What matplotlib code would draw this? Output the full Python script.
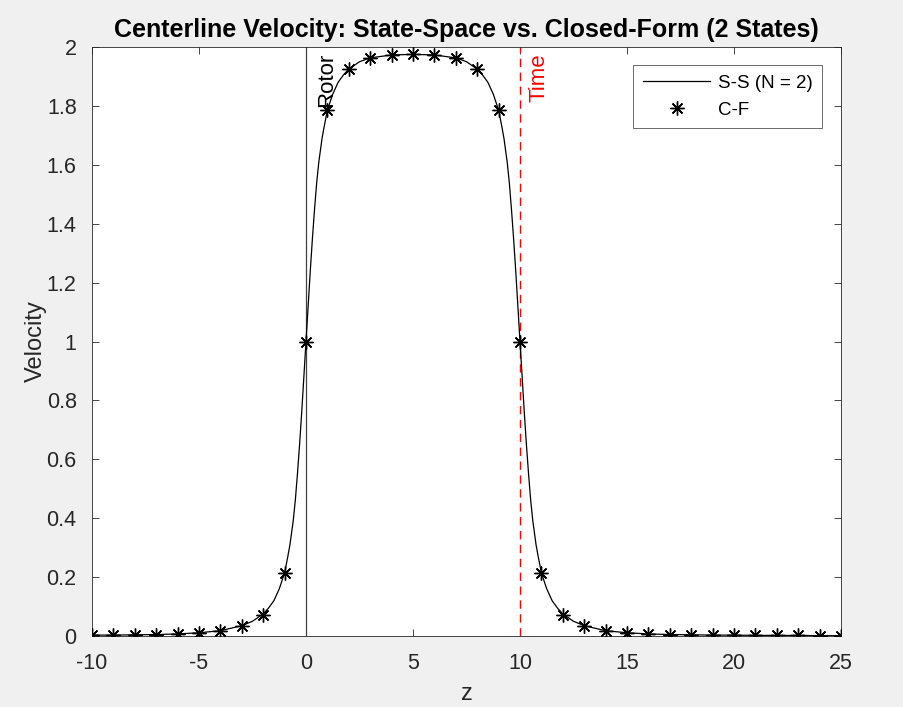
import matplotlib
matplotlib.use("Agg")
import matplotlib.pyplot as plt

plt.rcParams['font.family'] = ['Liberation Sans', 'DejaVu Sans']

# Closed-form solution sampled at integer z
cf_z = list(range(-10, 26))
cf_v = [0.003, 0.003, 0.004, 0.005, 0.007, 0.011, 0.018, 0.035, 0.072, 0.213,
        1.000, 1.786, 1.925, 1.963, 1.973, 1.975, 1.973, 1.963, 1.925, 1.786,
        1.000, 0.213, 0.072, 0.035, 0.018, 0.011, 0.007, 0.005, 0.004, 0.003,
        0.003, 0.002, 0.002, 0.002, 0.001, 0.001]

# State-space (N = 2) solution, finer sampling near the two discontinuities
ss_z = [-10, -9, -8, -7, -6, -5, -4, -3, -2.5, -2, -1.75, -1.5, -1.25, -1,
        -0.85, -0.75, -0.6, -0.5, -0.4, -0.3, -0.2, -0.15, -0.1, -0.05, 0,
        0.05, 0.1, 0.15, 0.2, 0.3, 0.4, 0.5, 0.6, 0.75, 0.85, 1, 1.25, 1.5,
        1.75, 2, 2.5, 3, 4, 5, 6, 7, 7.5, 8, 8.25, 8.5, 8.75, 9, 9.15, 9.25,
        9.4, 9.5, 9.6, 9.7, 9.8, 9.85, 9.9, 9.95, 10, 10.05, 10.1, 10.15, 10.2,
        10.3, 10.4, 10.5, 10.6, 10.75, 10.85, 11, 11.25, 11.5, 11.75, 12, 12.5,
        13, 14, 15, 16, 17, 18, 19, 20, 21, 22, 23, 24, 25]
ss_v = [0.003, 0.003, 0.004, 0.005, 0.007, 0.011, 0.018, 0.035, 0.050, 0.075,
        0.095, 0.120, 0.160, 0.214, 0.270, 0.310, 0.390, 0.460, 0.550, 0.650,
        0.760, 0.820, 0.880, 0.940, 1.000, 1.060, 1.120, 1.180, 1.240, 1.350,
        1.450, 1.540, 1.610, 1.690, 1.730, 1.786, 1.840, 1.880, 1.905, 1.925,
        1.950, 1.963, 1.973, 1.975, 1.973, 1.963, 1.950, 1.925, 1.905, 1.880,
        1.840, 1.786, 1.730, 1.690, 1.610, 1.540, 1.450, 1.350, 1.240, 1.180,
        1.120, 1.060, 1.000, 0.940, 0.880, 0.820, 0.760, 0.650, 0.550, 0.460,
        0.390, 0.310, 0.270, 0.214, 0.160, 0.120, 0.095, 0.075, 0.050, 0.035,
        0.018, 0.011, 0.007, 0.005, 0.004, 0.003, 0.003, 0.002, 0.002, 0.002,
        0.001, 0.001]

rotor_z = 0
time_z = 10

x_ticks = [-10, -5, 0, 5, 10, 15, 20, 25]
y_ticks = [0, 0.2, 0.4, 0.6, 0.8, 1, 1.2, 1.4, 1.6, 1.8, 2]

ink = '#262626'

fig = plt.figure(figsize=(9.04, 7.07), dpi=100, facecolor='#f0f0f0')
ax = fig.add_axes([92 / 904, 1 - 636 / 707, (841 - 92) / 904, (636 - 47) / 707])
ax.set_facecolor('white')

ax.plot(ss_z, ss_v, color='black', lw=0.9, label='S-S (N = 2)', zorder=3)
ax.plot(cf_z, cf_v, linestyle='none', marker=(8, 2, 0), markersize=10,
        markeredgewidth=1.0, color='black', label='C-F', zorder=4)

ax.axvline(rotor_z, color='#404040', lw=0.9, zorder=2)
ax.axvline(time_z, color='red', lw=1.0, ls=(0, (6, 4)), zorder=2)
ax.text(rotor_z + 0.95, 1.98, 'Rotor', rotation=90, ha='center', va='top',
        fontsize=16, color='black')
ax.text(time_z + 0.9, 1.98, 'Time', rotation=90, ha='center', va='top',
        fontsize=16, color='red')

ax.set_xlim(-10, 25)
ax.set_ylim(0, 2)
ax.set_xticks(x_ticks)
ax.set_yticks(y_ticks)
ax.set_xticklabels([str(t) for t in x_ticks])
ax.set_yticklabels(['0', '0.2', '0.4', '0.6', '0.8', '1', '1.2', '1.4', '1.6', '1.8', '2'])
ax.tick_params(direction='in', top=True, right=True, length=5, width=0.6,
               colors=ink, labelsize=15.5)
ax.tick_params(axis='x', pad=12)
ax.tick_params(axis='y', pad=11)
for s in ax.spines.values():
    s.set_color(ink)
    s.set_linewidth(0.6)

ax.set_xlabel('z', fontsize=17, color=ink, labelpad=7)
ax.set_ylabel('Velocity', fontsize=17, color=ink, labelpad=0)
ax.set_title('Centerline Velocity: State-Space vs. Closed-Form (2 States)',
             fontsize=18, fontweight='bold', color='black', pad=7)

leg = ax.legend(loc='upper right', bbox_to_anchor=(0.9746, 0.9694), fontsize=13.5,
                frameon=True, fancybox=False, edgecolor=ink, handlelength=3.6,
                handletextpad=0.4, borderpad=0.5, labelspacing=0.55,
                borderaxespad=0)
leg.get_frame().set_linewidth(0.6)

fig.savefig('out.png', dpi=100, facecolor=fig.get_facecolor())
